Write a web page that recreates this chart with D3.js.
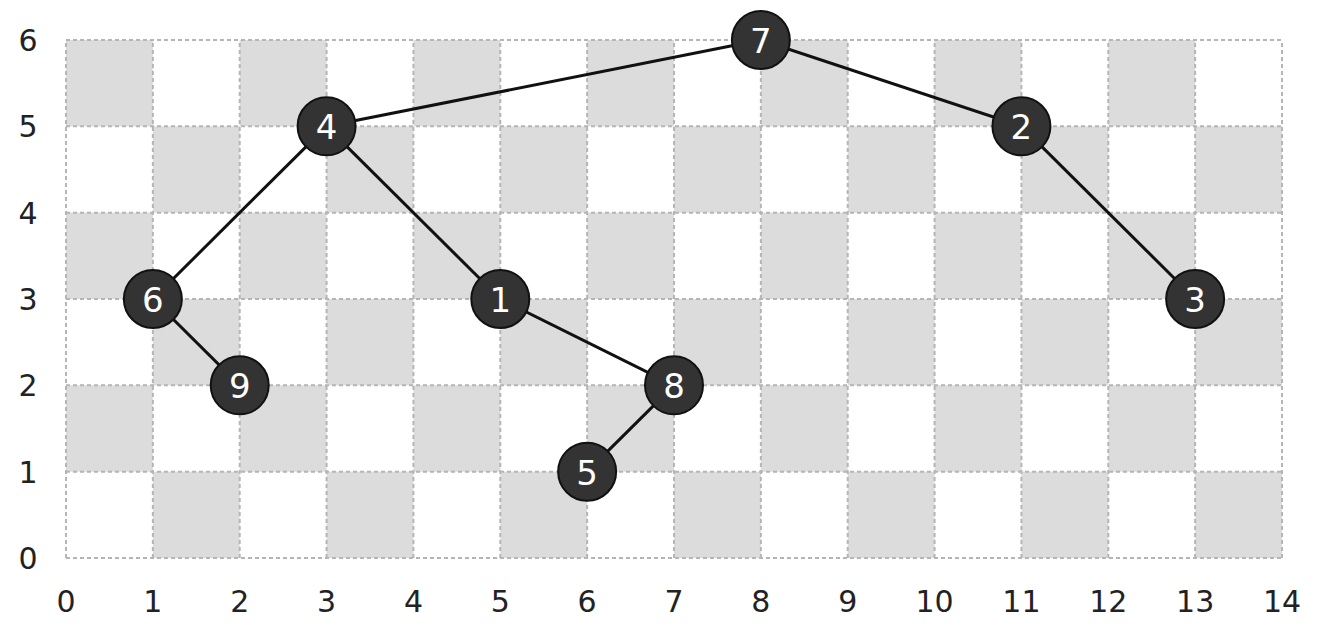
<!DOCTYPE html>
<html lang="en">
<head>
<meta charset="UTF-8">
<title>Tree on grid</title>
<style>
  body { margin: 0; background: #fff; }
  .tick { font-family: "DejaVu Sans", sans-serif; font-size: 30px; fill: #222; }
  .grid { stroke: #b5b5b5; stroke-width: 2; stroke-dasharray: 4 3; fill: none; }
  .edge { stroke: #111; stroke-width: 3; }
  .node circle { fill: #333; stroke: #111; stroke-width: 2; }
  .node text { fill: #fff; font-family: "DejaVu Sans", sans-serif; font-size: 34px; text-anchor: middle; dominant-baseline: central; }
</style>
</head>
<body>
<svg id="chart" width="1332" height="634"></svg>
<script src="https://d3js.org/d3.v7.min.js"></script>
<script>
  const xTicks = d3.range(0, 15);
  const yTicks = d3.range(0, 7);
  const nodeLabels = ["7", "4", "2", "6", "1", "3", "9", "8", "5"];
  const nodeX = [8, 3, 11, 1, 5, 13, 2, 7, 6];
  const nodeY = [6, 5, 5, 3, 3, 3, 2, 2, 1];
  const edgeFrom = ["7", "7", "4", "4", "2", "6", "1", "8"];
  const edgeTo   = ["4", "2", "6", "1", "3", "9", "8", "5"];

  const svg = d3.select("#chart");
  const x = d3.scaleLinear().domain([0, 14]).range([66, 1282]);
  const y = d3.scaleLinear().domain([0, 6]).range([558, 40]);

  // checkerboard
  const cells = [];
  for (let c = 0; c < 14; c++) for (let r = 0; r < 6; r++) if ((c + r) % 2 === 1) cells.push([c, r]);
  svg.append("g").selectAll("rect").data(cells).join("rect")
    .attr("x", d => x(d[0])).attr("y", d => y(d[1] + 1))
    .attr("width", x(1) - x(0)).attr("height", y(0) - y(1))
    .attr("fill", "#dcdcdc");

  // dashed grid
  const g = svg.append("g");
  g.selectAll(".v").data(xTicks).join("line").attr("class", "grid")
    .attr("x1", d => x(d)).attr("x2", d => x(d)).attr("y1", y(0)).attr("y2", y(6));
  g.selectAll(".h").data(yTicks).join("line").attr("class", "grid")
    .attr("y1", d => y(d)).attr("y2", d => y(d)).attr("x1", x(0)).attr("x2", x(14));

  // tick labels
  svg.append("g").selectAll("text").data(xTicks).join("text").attr("class", "tick")
    .attr("x", d => x(d)).attr("y", 612).attr("text-anchor", "middle").text(d => d);
  svg.append("g").selectAll("text").data(yTicks).join("text").attr("class", "tick")
    .attr("x", 28).attr("y", d => y(d) + 11).attr("text-anchor", "middle").text(d => d);

  // edges
  const pos = {};
  nodeLabels.forEach((l, i) => pos[l] = [nodeX[i], nodeY[i]]);
  svg.append("g").selectAll("line").data(edgeFrom.map((f, i) => [f, edgeTo[i]])).join("line")
    .attr("class", "edge")
    .attr("x1", d => x(pos[d[0]][0])).attr("y1", d => y(pos[d[0]][1]))
    .attr("x2", d => x(pos[d[1]][0])).attr("y2", d => y(pos[d[1]][1]));

  // nodes
  const node = svg.append("g").selectAll("g").data(nodeLabels).join("g").attr("class", "node")
    .attr("transform", d => `translate(${x(pos[d][0])},${y(pos[d][1])})`);
  node.append("circle").attr("r", 29);
  node.append("text").attr("dy", 1).text(d => d);
</script>
</body>
</html>
